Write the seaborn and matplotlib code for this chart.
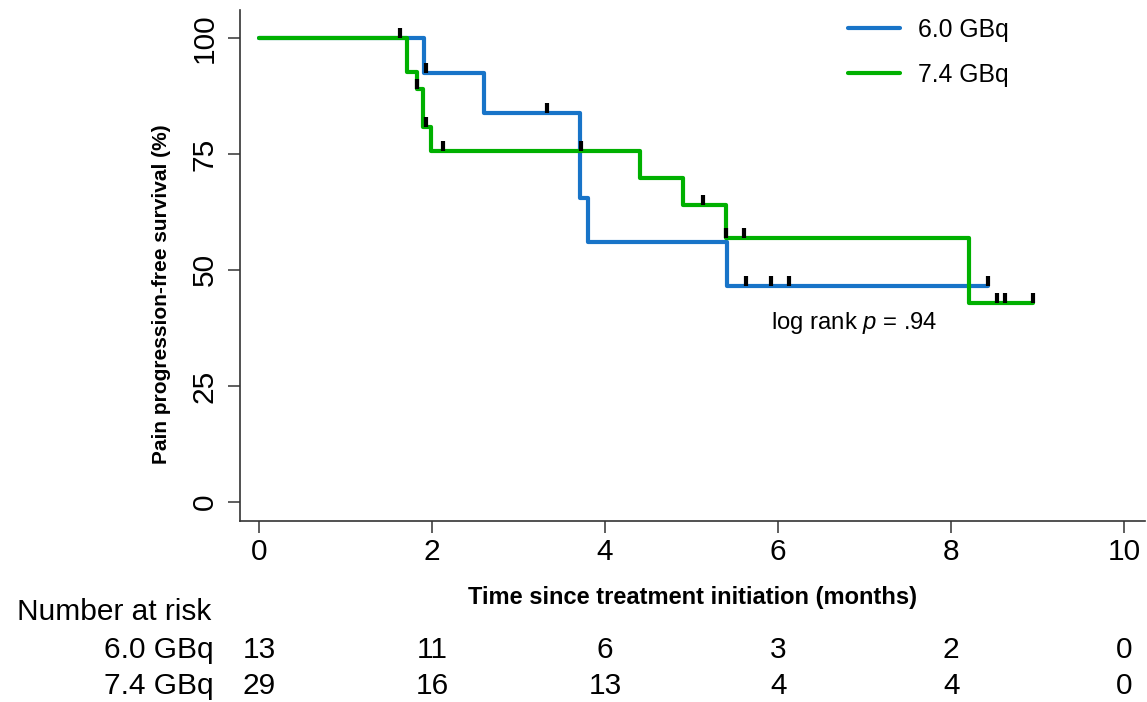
"""
Kaplan-Meier curve: pain progression-free survival by activity group
"""

import numpy as np
import pandas as pd
import matplotlib
matplotlib.use("Agg")
import matplotlib.pyplot as plt
import matplotlib.transforms as mtransforms
from matplotlib.path import Path
import seaborn as sns

groups = ["6.0 GBq", "7.4 GBq"]
colors = ["#1874c8", "#00b000"]

# KM steps (months, % progression-free)
t_60 = [0, 1.91, 2.60, 3.71, 3.80, 5.41, 8.43]
s_60 = [100, 92.4, 83.8, 65.5, 56.0, 46.5, 46.5]
t_74 = [0, 1.71, 1.82, 1.90, 1.99, 4.40, 4.90, 5.40, 8.21, 8.94]
s_74 = [100, 92.6, 89.0, 80.8, 75.6, 69.8, 64.0, 56.9, 42.9, 42.9]

# censored observations
cens_t_60 = [1.93, 3.33, 5.63, 5.92, 6.12, 8.43]
cens_s_60 = [92.4, 83.8, 46.5, 46.5, 46.5, 46.5]
cens_t_74 = [1.63, 1.83, 1.93, 2.13, 3.72, 5.13, 5.40, 5.60, 8.53, 8.62, 8.94]
cens_s_74 = [100, 89.0, 80.8, 75.6, 75.6, 64.0, 56.9, 56.9, 42.9, 42.9, 42.9]

# number at risk table
risk_times = [0, 2, 4, 6, 8, 10]
risk_60 = [13, 11, 6, 3, 2, 0]
risk_74 = [29, 16, 13, 4, 4, 0]

sns.set_theme(style="ticks")
plt.rcParams['font.family'] = ['Liberation Sans', 'DejaVu Sans']
plt.rcParams['text.color'] = 'black'
plt.rcParams['axes.labelcolor'] = 'black'
plt.rcParams['mathtext.fontset'] = 'custom'
plt.rcParams['mathtext.rm'] = 'Liberation Sans'
plt.rcParams['mathtext.it'] = 'Liberation Sans:italic'

df = pd.concat([
    pd.DataFrame({'time': t_60, 'surv': s_60, 'group': groups[0]}),
    pd.DataFrame({'time': t_74, 'surv': s_74, 'group': groups[1]}),
], ignore_index=True)

W, H = 1147, 702
fig = plt.figure(figsize=(W / 100, H / 100), dpi=100)
ax = fig.add_axes([240 / W, 1 - 521 / H, (1145 - 240) / W, (521 - 10) / H])

sns.lineplot(data=df, x='time', y='surv', hue='group', hue_order=groups,
             palette=colors, drawstyle='steps-post', estimator=None,
             sort=False, lw=3, ax=ax)

# censor ticks sit on top of the line
tick_mark = Path([(0, 0), (0, 1)], [Path.MOVETO, Path.LINETO])
for ct, cs in [(cens_t_60, cens_s_60), (cens_t_74, cens_s_74)]:
    ax.plot(ct, cs, ls='none', marker=tick_mark, ms=15, mew=3,
            mec='black', zorder=5)

ax.set_xlim(-0.22, 10.24)
ax.set_ylim(-4.1, 106)
ax.set_xticks([0, 2, 4, 6, 8, 10])
ax.set_yticks([0, 25, 50, 75, 100])
sns.despine(ax=ax)
for sp in ['left', 'bottom']:
    ax.spines[sp].set_color('#333333')
    ax.spines[sp].set_linewidth(1.2)
ax.tick_params(axis='both', length=8.5, width=1.1, color='#333333',
               labelsize=21.5, labelcolor='black')
ax.tick_params(axis='x', pad=4)
ax.tick_params(axis='y', pad=7, labelrotation=90)
for lab in ax.get_yticklabels():
    lab.set_va('center')

ax.set_xlabel('Time since treatment initiation (months)', fontsize=17,
              fontweight='bold', labelpad=14)
ax.set_ylabel('Pain progression-free survival (%)', fontsize=15,
              fontweight='bold', labelpad=14)
ax.yaxis.label.set_y(0.444)

handles, labels = ax.get_legend_handles_labels()
ax.legend(handles, labels, loc='upper left',
          bbox_to_anchor=(848 / W, 1 - 18 / H), bbox_transform=fig.transFigure,
          frameon=False, fontsize=17.8, handlelength=2.1, handletextpad=0.75,
          labelspacing=0.83, borderpad=0, borderaxespad=0)

ax.text(6.88, 38.6, 'log rank $p$ = .94', fontsize=17.2, ha='center', va='center')

# number at risk
trans = mtransforms.blended_transform_factory(ax.transData, fig.transFigure)
fig.text(17 / W, 1 - 612 / H, 'Number at risk', fontsize=21.5, va='center')
for yy, name, vals in [(650, groups[0], risk_60), (686, groups[1], risk_74)]:
    fig.text(214 / W, 1 - yy / H, name, fontsize=21.5, ha='right', va='center')
    for t, n in zip(risk_times, vals):
        ax.text(t, 1 - yy / H, str(n), transform=trans, fontsize=21.5,
                ha='center', va='center')

fig.savefig('out.png', dpi=100)
plt.close(fig)
